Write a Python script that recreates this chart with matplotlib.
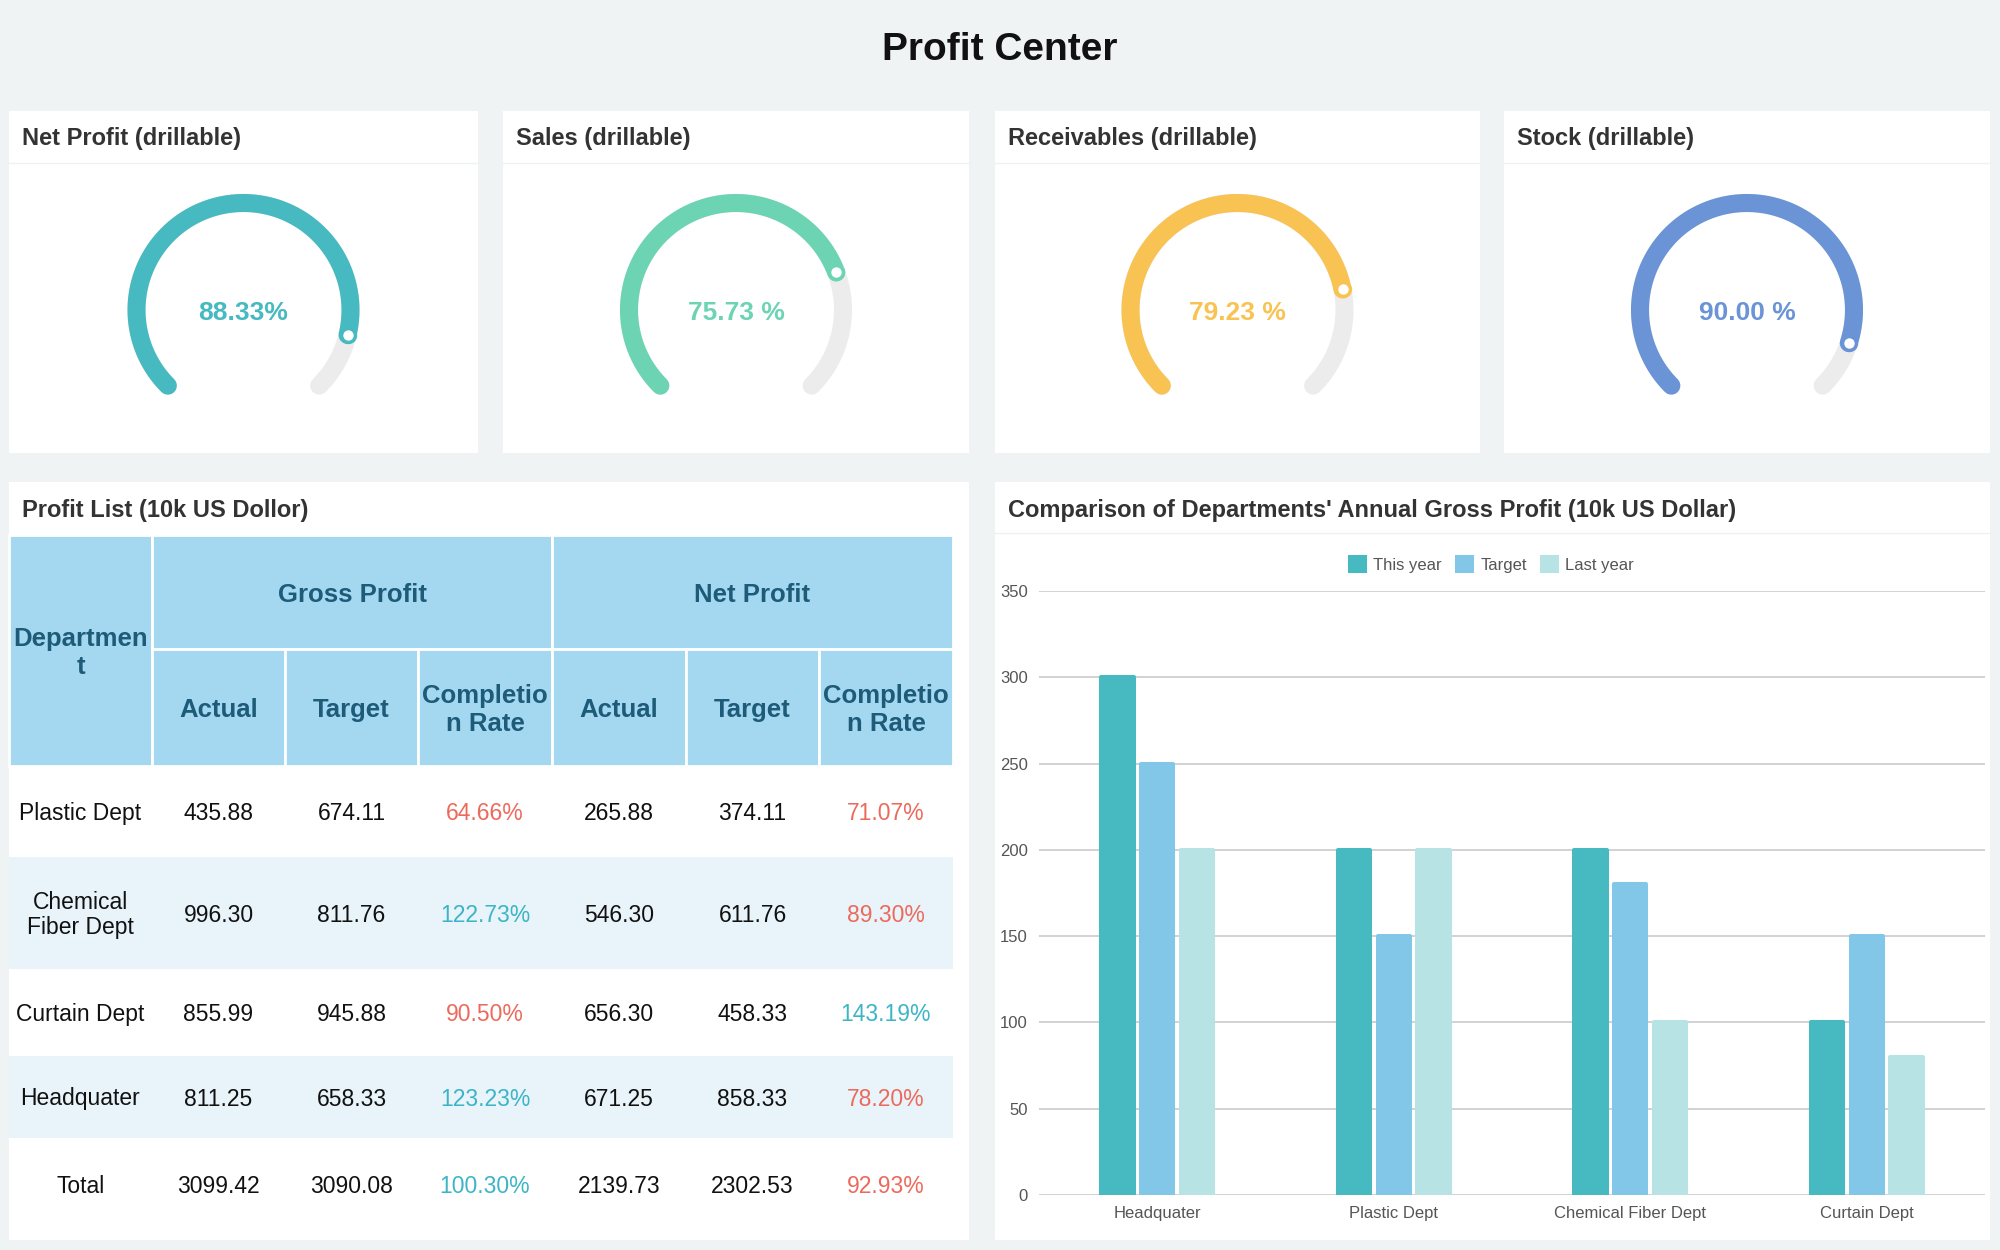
import numpy as np
import matplotlib.pyplot as plt
from matplotlib.patches import Rectangle

plt.rcParams['font.family'] = ['Liberation Sans', 'DejaVu Sans']

W, H = 2000, 1250

# gauges
gauge_titles = ["Net Profit (drillable)", "Sales (drillable)", "Receivables (drillable)", "Stock (drillable)"]
gauge_values = [88.33, 75.73, 79.23, 90.00]
gauge_labels = ["88.33%", "75.73 %", "79.23 %", "90.00 %"]
gauge_colors = ["#47b9c0", "#6dd4b3", "#f8c352", "#6a94d6"]

# profit list
departments = ["Plastic Dept", "Chemical\nFiber Dept", "Curtain Dept", "Headquater", "Total"]
gross_actual = [435.88, 996.30, 855.99, 811.25, 3099.42]
gross_target = [674.11, 811.76, 945.88, 658.33, 3090.08]
gross_rate = [64.66, 122.73, 90.50, 123.23, 100.30]
net_actual = [265.88, 546.30, 656.30, 671.25, 2139.73]
net_target = [374.11, 611.76, 458.33, 858.33, 2302.53]
net_rate = [71.07, 89.30, 143.19, 78.20, 92.93]

# bar chart
bar_categories = ["Headquater", "Plastic Dept", "Chemical Fiber Dept", "Curtain Dept"]
this_year = [300, 200, 200, 100]
target = [250, 150, 180, 150]
last_year = [200, 200, 100, 80]
series_names = ["This year", "Target", "Last year"]
series_colors = ["#47b9c0", "#82c7e8", "#b7e3e5"]

fig = plt.figure(figsize=(20, 12.5), dpi=100, facecolor="#eff3f4")
bg = fig.add_axes([0, 0, 1, 1])
bg.set_xlim(0, W)
bg.set_ylim(H, 0)
bg.axis("off")


def panel(x0, y0, x1, y1):
    bg.add_patch(Rectangle((x0, y0), x1 - x0, y1 - y0, fc="white", ec="none"))


bg.text(1000, 50, "Profit Center", ha="center", va="center", fontsize=28, fontweight="bold", color="#111")

# gauge panels
gauge_boxes = [(9, 111, 478, 453), (503, 111, 969, 453), (995, 111, 1480, 453), (1504, 111, 1990, 453)]


def add_gauge(cx, cy, value, label, color):
    ax = fig.add_axes([(cx - 150) / W, 1 - (cy + 150) / H, 300 / W, 300 / H])
    ax.set_xlim(-150, 150)
    ax.set_ylim(-150, 150)
    ax.axis("off")
    r = 107
    t = np.radians(np.linspace(225, -45, 300))
    ax.plot(r * np.cos(t), r * np.sin(t), color="#ececec", lw=13, solid_capstyle="round")
    end = 225 - 270 * value / 100
    t = np.radians(np.linspace(225, end, 300))
    ax.plot(r * np.cos(t), r * np.sin(t), color=color, lw=13, solid_capstyle="round")
    ax.plot(r * np.cos(t[-1]), r * np.sin(t[-1]), "o", ms=10, mfc="white", mec=color, mew=2.5)
    ax.text(0, -3, label, ha="center", va="center", fontsize=19, fontweight="bold", color=color)


for box, title, val, lab, col in zip(gauge_boxes, gauge_titles, gauge_values, gauge_labels, gauge_colors):
    x0, y0, x1, y1 = box
    panel(x0, y0, x1, y1)
    bg.plot([x0, x1], [163, 163], color="#eef1f2", lw=1)
    bg.text(x0 + 13, 139, title, ha="left", va="center", fontsize=17, fontweight="bold", color="#333")
    add_gauge((x0 + x1) / 2, 310, val, lab, col)

# table panel
panel(9, 482, 969, 1240)
bg.text(22, 510, "Profit List (10k US Dollor)", ha="left", va="center", fontsize=17, fontweight="bold", color="#333")

cols = [9, 152, 285, 418, 552, 686, 819, 953]
head_fc = "#a4d8f1"
head_tc = "#1d5b79"
head_fs = 18.5
body_fs = 16.5


def cell(x0, y0, x1, y1, fc, ec="white"):
    bg.add_patch(Rectangle((x0, y0), x1 - x0, y1 - y0, fc=fc, ec=ec, lw=2))


cell(cols[0], 535, cols[1], 766, head_fc)
bg.text((cols[0] + cols[1]) / 2, 653, "Departmen\nt", ha="center", va="center", fontsize=head_fs,
        fontweight="bold", color=head_tc, linespacing=1.2)
for name, a, b in [("Gross Profit", cols[1], cols[4]), ("Net Profit", cols[4], cols[7])]:
    cell(a, 535, b, 649, head_fc)
    bg.text((a + b) / 2, 595, name, ha="center", va="center", fontsize=head_fs, fontweight="bold", color=head_tc)
sub_heads = ["Actual", "Target", "Completio\nn Rate"] * 2
for i, name in enumerate(sub_heads):
    a, b = cols[i + 1], cols[i + 2]
    cell(a, 649, b, 766, head_fc)
    bg.text((a + b) / 2, 710, name, ha="center", va="center", fontsize=head_fs, fontweight="bold",
            color=head_tc, linespacing=1.2)

row_edges = [766, 857, 969, 1056, 1138, 1231]
red, teal = "#ec6a5c", "#3db5c6"
for r, dept in enumerate(departments):
    y0, y1 = row_edges[r], row_edges[r + 1]
    fc = "#e8f4fa" if r % 2 == 1 else "white"
    bg.add_patch(Rectangle((cols[0], y0), cols[-1] - cols[0], y1 - y0, fc=fc, ec="none"))
    yc = (y0 + y1) / 2 + 2
    vals = [gross_actual[r], gross_target[r], gross_rate[r], net_actual[r], net_target[r], net_rate[r]]
    bg.text((cols[0] + cols[1]) / 2, yc, dept, ha="center", va="center", fontsize=body_fs,
            color="#111", linespacing=1.15)
    for i, v in enumerate(vals):
        xc = (cols[i + 1] + cols[i + 2]) / 2
        if i % 3 == 2:
            txt, c = "%.2f%%" % v, (red if v < 100 else teal)
        else:
            txt, c = "%.2f" % v, "#111"
        bg.text(xc, yc, txt, ha="center", va="center", fontsize=body_fs, color=c)

# bar chart panel
panel(995, 482, 1990, 1240)
bg.plot([995, 1990], [533, 533], color="#eef1f2", lw=1)
bg.text(1008, 510, "Comparison of Departments' Annual Gross Profit (10k US Dollar)", ha="left",
        va="center", fontsize=17, fontweight="bold", color="#333")

bx = fig.add_axes([1039 / W, 1 - 1195 / H, (1985 - 1039) / W, (1195 - 591) / H])
bx.set_facecolor("none")
x = np.arange(len(bar_categories))
off, bw = 0.168, 0.136
for k, (vals, col, name) in enumerate(zip([this_year, target, last_year], series_colors, series_names)):
    bx.bar(x + (k - 1) * off, vals, bw, color=col, edgecolor=col, linewidth=2.9,
           joinstyle="round", label=name, zorder=3)
bx.set_xlim(-0.5, 3.5)
bx.set_ylim(0, 350)
bx.set_yticks(range(0, 351, 50))
bx.set_xticks(x)
bx.set_xticklabels(bar_categories)
bx.yaxis.grid(True, color="#cfcfcf", lw=1.3)
bx.set_axisbelow(True)
for s in bx.spines.values():
    s.set_visible(False)
bx.tick_params(length=0, labelsize=12, labelcolor="#555")
bx.tick_params(axis="y", pad=8)
bx.tick_params(axis="x", pad=8)
bx.legend(loc="center", bbox_to_anchor=(1492 / W, 1 - 565 / H), bbox_transform=fig.transFigure,
          ncol=3, frameon=False, fontsize=12, handlelength=0.9, handleheight=0.9,
          handletextpad=0.5, columnspacing=0.9, labelcolor="#555")

fig.savefig("out.png", dpi=100, facecolor=fig.get_facecolor())
